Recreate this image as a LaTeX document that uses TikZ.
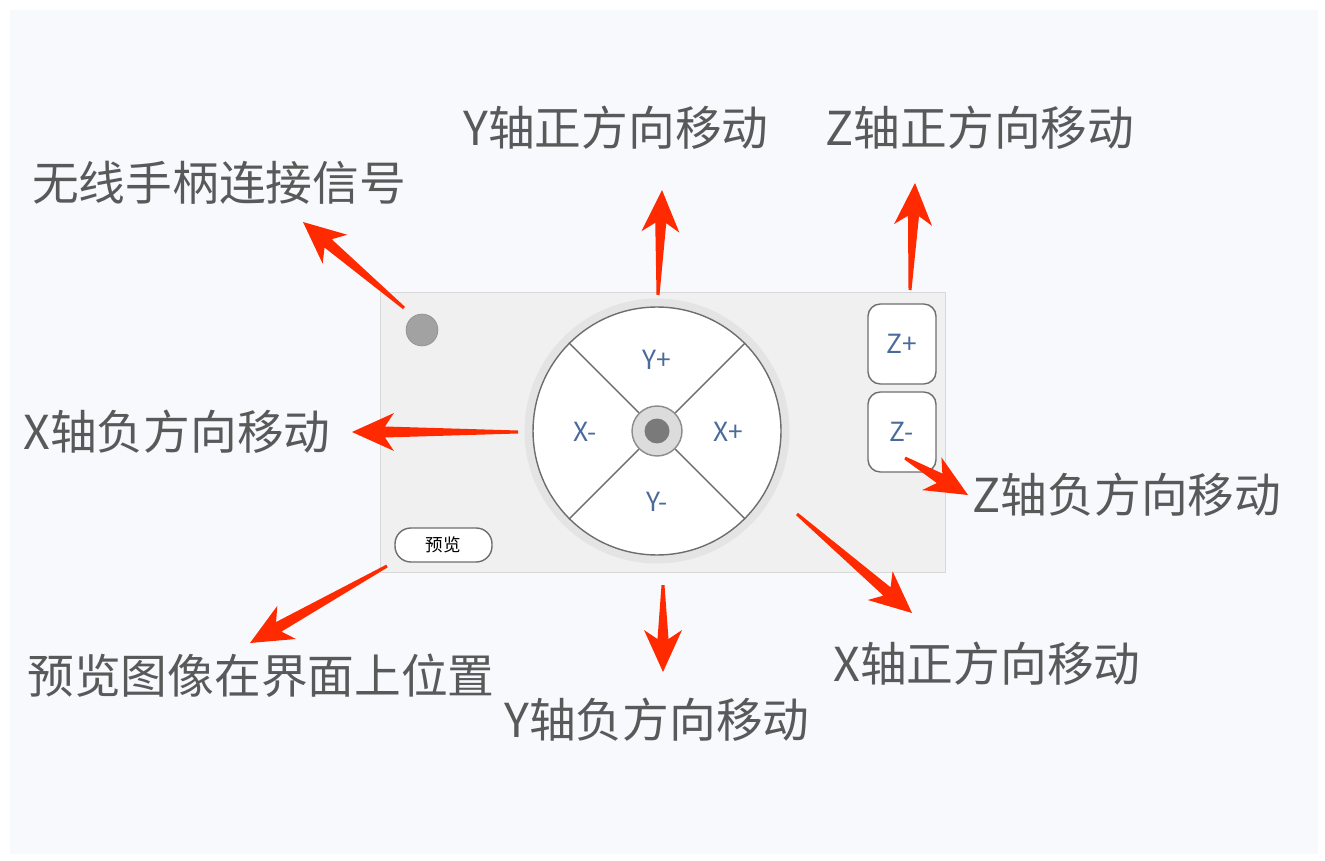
\documentclass[tikz,border=0pt]{standalone}
\usepackage{fontspec}
\setmainfont{Noto Sans CJK SC}
\usepackage{tikz}
\usetikzlibrary{calc}
\definecolor{pageTint}{HTML}{F8F9FD}
\definecolor{panelGrau}{HTML}{F0F0F0}
\definecolor{panelRand}{HTML}{D8D8D8}
\definecolor{haloGrau}{HTML}{E4E4E4}
\definecolor{keyGrau}{HTML}{6E6E6E}
\definecolor{hubGrau}{HTML}{DCDCDC}
\definecolor{dotGrau}{HTML}{7A7A7A}
\definecolor{ledGrau}{HTML}{A2A2A2}
\definecolor{padBlau}{HTML}{4A6A9C}
\definecolor{calloutGrau}{HTML}{595959}
\definecolor{pfeilRot}{HTML}{FF2A00}

% tapered callout arrow: #1 tail, #2 tip
\newcommand{\taperarrow}[2]{%
  \coordinate (hb) at ($(#2)!0.84cm!(#1)$);
  \coordinate (hj) at ($(#2)!0.66cm!(#1)$);
  \fill[pfeilRot]
    ($(#1)!0.03cm!90:(#2)$) -- ($(hj)!0.11cm!90:(#2)$)
    -- ($(hb)!0.38cm!90:(#2)$) -- (#2)
    -- ($(hb)!0.38cm!-90:(#2)$) -- ($(hj)!0.11cm!-90:(#2)$)
    -- ($(#1)!0.03cm!-90:(#2)$) -- cycle;}

\begin{document}
\begin{tikzpicture}[
  x=0.02cm, y=-0.02cm,
  every node/.style={inner sep=0pt},
  callout/.style={font=\fontsize{26.6}{30}\selectfont, text=calloutGrau},
  dirlabel/.style={font=\fontsize{15}{18}\selectfont, text=padBlau},
  zkey/.style={draw=keyGrau, line width=0.8pt, fill=white,
               rounded corners=7pt, minimum width=1.36cm,
               minimum height=1.6cm, font=\fontsize{15}{18}\selectfont,
               text=padBlau},
  pill/.style={draw=keyGrau, line width=0.8pt, fill=white,
               rounded corners=9pt, minimum width=1.94cm,
               minimum height=0.68cm, font=\fontsize{10}{12}\selectfont},
]
\useasboundingbox (0,0) rectangle (1325,861);
\fill[white] (0,0) rectangle (1325,861);
\fill[pageTint] (10,10) rectangle (1318,854);

% --- control panel ------------------------------------------------
\node[draw=panelRand, fill=panelGrau, minimum width=11.3cm,
      minimum height=5.6cm] (panel) at (662.5,432) {};
\node[circle, fill=ledGrau, draw=ledGrau!85!black, line width=0.3pt,
      minimum size=0.64cm] (led) at (422,330) {};

% direction pad
\node[circle, fill=haloGrau, minimum size=5.3cm] (halo) at (657,431) {};
\node[circle, draw=keyGrau, line width=0.8pt, fill=white,
      minimum size=4.96cm] (pad) at (657,431) {};
\node[circle, draw=keyGrau!80, line width=0.8pt, fill=hubGrau,
      minimum size=1.0cm] (hub) at (657,431) {};
\node[circle, fill=dotGrau, minimum size=0.5cm] (dot) at (657,431) {};
\foreach \a in {45,135,225,315}
  \draw[keyGrau, line width=0.8pt] (hub.\a) -- (pad.\a);

\node[dirlabel] (yplus)  at (657,360) {Y+};
\node[dirlabel] (xminus) at (585,432) {X-};
\node[dirlabel] (xplus)  at (728,432) {X+};
\node[dirlabel] (yminus) at (657,502) {Y-};

% z keys and preview button
\node[zkey] (zplus)  at (902,344) {Z+};
\node[zkey] (zminus) at (902,432) {Z-};
\node[pill] (preview) at (443.5,545) {预览};

% --- callout texts --------------------------------------------------
\node[callout] (sigtext)   at (219,183)  {无线手柄连接信号};
\node[callout] (yptext)    at (616,128)  {Y轴正方向移动};
\node[callout] (zptext)    at (980,128)  {Z轴正方向移动};
\node[callout] (xmtext)    at (177,432)  {X轴负方向移动};
\node[callout] (zmtext)    at (1127,495) {Z轴负方向移动};
\node[callout] (pvtext)    at (261,676)  {预览图像在界面上位置};
\node[callout] (xptext)    at (987,664)  {X轴正方向移动};
\node[callout] (ymtext)    at (657,720)  {Y轴负方向移动};

% --- red arrows -----------------------------------------------------
\coordinate (sig-tail) at (404,308);  \coordinate (sig-tip) at (303,222);
\coordinate (yp-tail)  at (658,295);  \coordinate (yp-tip)  at (662,190);
\coordinate (zp-tail)  at (910,290);  \coordinate (zp-tip)  at (915,183);
\coordinate (xm-tail)  at (518,432);  \coordinate (xm-tip)  at (352,432);
\coordinate (zm-tail)  at (905,458);  \coordinate (zm-tip)  at (968,495);
\coordinate (pv-tail)  at (387,566);  \coordinate (pv-tip)  at (250,643);
\coordinate (ym-tail)  at (663,585);  \coordinate (ym-tip)  at (663,672);
\coordinate (xp-tail)  at (797,514);  \coordinate (xp-tip)  at (912,613);

\taperarrow{sig-tail}{sig-tip}
\taperarrow{yp-tail}{yp-tip}
\taperarrow{zp-tail}{zp-tip}
\taperarrow{xm-tail}{xm-tip}
\taperarrow{zm-tail}{zm-tip}
\taperarrow{pv-tail}{pv-tip}
\taperarrow{ym-tail}{ym-tip}
\taperarrow{xp-tail}{xp-tip}
\end{tikzpicture}
\end{document}
